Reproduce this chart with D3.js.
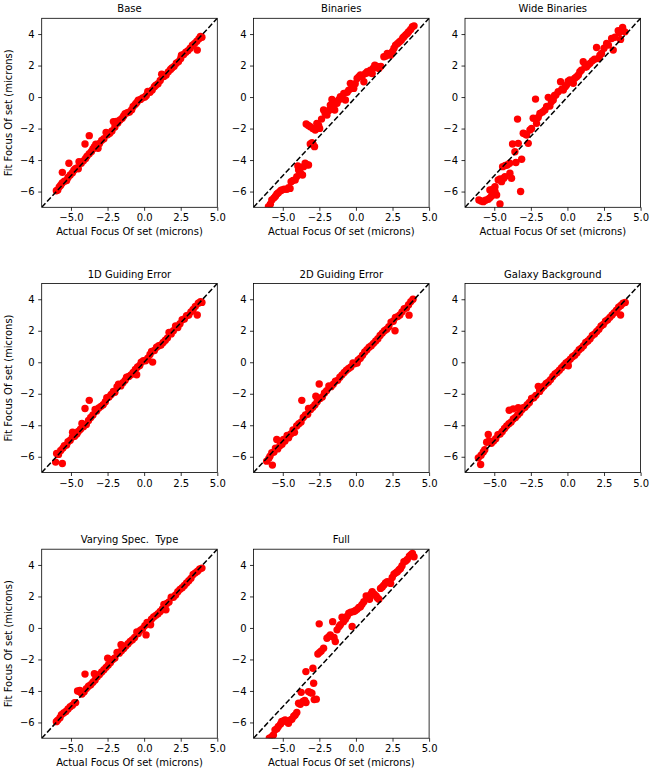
<!DOCTYPE html>
<html>
<head>
<meta charset="utf-8">
<script src="https://d3js.org/d3.v7.min.js"></script>
<style>
  body { margin: 0; background: #fff; }
  text { font-family: "DejaVu Sans", sans-serif; }
</style>
</head>
<body>
<script>
// DATA  ([actual, fit] in microns)

var titles = ["Base", "Binaries", "Wide Binaries", "1D Guiding Error", "2D Guiding Error",
  "Galaxy Background", "Varying Spec.  Type", "Full"];

var base = [[-6.0,-5.95],[-5.9,-5.9],[-5.8,-5.7],[-5.7,-5.6],[-5.6,-5.45],[-5.59,-4.78],[-5.45,-5.35],[-5.3,-5.3],[-5.2,-5.1],[-5.14,-4.2],[-5.05,-4.95],[-4.9,-4.8],[-4.8,-4.65],[-4.7,-4.55],[-4.6,-4.5],[-4.5,-4.55],[-4.45,-4.1],[-4.3,-4.2],[-4.15,-4.05],[-4.04,-2.98],[-4.0,-3.9],[-3.9,-3.75],[-3.75,-2.45],[-3.75,-3.6],[-3.6,-3.45],[-3.5,-3.3],[-3.4,-3.15],[-3.3,-3.0],[-3.15,-3.25],[-3.05,-2.95],[-2.9,-2.75],[-2.75,-2.65],[-2.6,-2.25],[-2.5,-2.4],[-2.35,-2.3],[-2.2,-2.15],[-2.1,-1.56],[-2.0,-1.9],[-1.9,-1.55],[-1.8,-1.65],[-1.65,-1.45],[-1.5,-1.35],[-1.4,-1.2],[-1.3,-1.05],[-1.15,-1.0],[-1.0,-0.95],[-0.85,-0.8],[-0.75,-0.6],[-0.6,-0.45],[-0.5,-0.35],[-0.4,-0.2],[-0.25,-0.15],[-0.1,-0.05],[0.05,0.0],[0.15,0.1],[0.25,0.35],[0.4,0.3],[0.55,0.45],[0.7,0.65],[0.8,0.75],[0.95,0.85],[1.1,1.05],[1.2,1.45],[1.35,1.3],[1.5,1.4],[1.65,1.6],[1.8,1.75],[1.9,1.85],[2.05,1.95],[2.2,2.15],[2.35,2.25],[2.5,2.45],[2.55,2.65],[2.7,2.7],[2.85,2.85],[3.0,2.95],[3.15,3.1],[3.3,3.3],[3.45,3.4],[3.6,3.55],[3.63,2.98],[3.75,3.7],[3.85,3.85],[3.95,3.8]];

var binaries = [[-5.98,-6.96],[-5.85,-6.8],[-5.75,-6.53],[-5.6,-6.4],[-5.5,-6.3],[-5.4,-6.15],[-5.3,-6.07],[-5.15,-5.95],[-5.07,-5.9],[-4.9,-5.85],[-4.72,-5.86],[-4.6,-5.75],[-4.5,-5.8],[-4.43,-5.37],[-4.3,-5.3],[-4.15,-5.26],[-4.04,-5.05],[-3.92,-4.63],[-3.97,-4.38],[-3.8,-4.8],[-3.65,-4.95],[-3.58,-4.42],[-3.47,-4.2],[-3.35,-4.3],[-3.24,-4.31],[-3.12,-2.98],[-3.0,-2.9],[-2.94,-2.98],[-2.83,-3.15],[-3.4,-1.71],[-3.25,-1.8],[-3.12,-1.88],[-2.95,-2.0],[-2.78,-2.09],[-2.67,-1.67],[-2.55,-1.8],[-2.48,-1.99],[-2.35,-1.4],[-2.21,-0.82],[-2.1,-1.05],[-1.98,-1.14],[-1.85,-0.85],[-1.75,-0.51],[-1.64,-0.15],[-1.55,-0.6],[-1.45,-0.82],[-1.35,-0.3],[-1.29,-0.4],[-1.15,-0.15],[-1.06,0.02],[-0.95,-0.1],[-0.83,0.23],[-0.72,-0.19],[-0.6,0.3],[-0.49,0.44],[-0.38,0.87],[-0.28,0.6],[-0.15,0.55],[-0.05,0.85],[0.08,1.18],[0.2,1.3],[0.31,1.4],[0.42,1.3],[0.54,0.97],[0.65,1.5],[0.77,1.61],[0.9,1.55],[0.99,1.71],[1.11,1.5],[1.2,1.85],[1.29,2.03],[1.45,1.95],[1.57,1.82],[1.7,1.95],[1.91,2.56],[2.05,2.6],[2.14,2.77],[2.25,2.75],[2.37,2.66],[2.5,2.9],[2.6,3.1],[2.71,3.3],[2.85,3.4],[2.98,3.51],[3.1,3.6],[3.2,3.75],[3.28,3.83],[3.4,3.95],[3.51,4.04],[3.6,4.15],[3.74,4.29],[3.86,4.46],[3.97,4.52]];

var wideBinaries = [[-6.05,-6.53],[-5.9,-6.6],[-5.75,-6.64],[-5.6,-6.55],[-5.41,-6.49],[-5.3,-6.4],[-5.18,-6.28],[-5.3,-5.9],[-5.1,-5.85],[-4.95,-6.0],[-4.84,-6.22],[-4.61,-6.79],[-4.95,-5.69],[-4.73,-5.26],[-4.6,-5.2],[-4.5,-5.37],[-4.35,-5.15],[-4.27,-5.05],[-3.93,-4.84],[-3.82,-5.16],[-3.2,-6.0],[-4.43,-4.42],[-4.25,-4.35],[-4.11,-4.31],[-3.95,-4.2],[-3.52,-4.16],[-3.13,-3.95],[-3.75,-2.98],[-3.36,-2.94],[-3.59,-3.47],[-3.41,-1.4],[-3.02,-2.3],[-2.9,-2.35],[-2.79,-2.41],[-2.68,-2.94],[-2.56,-2.09],[-2.45,-2.0],[-2.34,-1.35],[-2.18,-0.13],[-2.11,-1.67],[-2.0,-1.3],[-1.88,-1.04],[-1.7,-0.95],[-1.54,-0.82],[-1.42,-0.6],[-1.31,-0.02],[-1.2,-0.57],[-1.1,-0.3],[-0.97,-0.19],[-0.88,0.1],[-0.79,0.13],[-0.63,0.34],[-0.47,0.97],[-0.38,0.5],[-0.28,0.44],[-0.15,0.65],[-0.06,0.76],[0.05,1.0],[0.17,1.08],[0.28,0.95],[0.4,0.87],[0.5,1.2],[0.63,1.29],[0.75,1.4],[0.85,1.61],[0.95,1.7],[1.08,2.24],[1.2,1.9],[1.31,1.92],[1.42,2.05],[1.54,2.14],[1.7,2.3],[1.85,2.4],[1.99,3.15],[2.11,2.45],[2.22,2.65],[2.33,2.77],[2.5,3.1],[2.68,3.4],[2.8,3.3],[3.13,2.98],[3.02,3.72],[3.25,3.8],[3.47,4.21],[3.55,4.1],[3.63,3.66],[3.77,4.42],[3.93,4.14]];

var guiding1D = [[-6.05,-6.34],[-5.59,-6.43],[-5.98,-5.79],[-5.85,-5.85],[-5.7,-5.6],[-5.55,-5.45],[-5.45,-5.3],[-5.3,-5.25],[-5.2,-5.05],[-5.05,-4.95],[-4.9,-4.75],[-4.89,-4.44],[-4.75,-4.7],[-4.6,-4.55],[-4.5,-4.4],[-4.35,-4.25],[-4.25,-3.89],[-4.15,-4.1],[-4.04,-2.94],[-3.95,-3.95],[-3.75,-2.42],[-3.8,-3.7],[-3.65,-3.5],[-3.5,-3.35],[-3.35,-3.0],[-3.25,-3.1],[-3.1,-2.9],[-2.95,-2.8],[-2.8,-2.7],[-2.65,-2.5],[-2.55,-2.25],[-2.4,-2.2],[-2.25,-2.05],[-2.1,-1.85],[-2.0,-1.9],[-1.85,-1.55],[-1.75,-1.4],[-1.6,-1.5],[-1.45,-1.3],[-1.3,-1.15],[-1.2,-0.95],[-1.05,-0.9],[-0.9,-0.8],[-0.75,-0.65],[-0.6,-0.45],[-0.51,-0.79],[-0.45,-0.3],[-0.3,-0.2],[-0.2,0.0],[-0.05,0.1],[0.1,0.1],[0.25,0.25],[0.4,0.5],[0.51,0.69],[0.58,0.01],[0.7,0.75],[0.85,0.95],[1.0,1.05],[1.15,1.1],[1.3,1.25],[1.45,1.4],[1.6,1.55],[1.7,1.9],[1.85,1.8],[2.0,2.0],[2.15,2.3],[2.3,2.2],[2.45,2.45],[2.6,2.7],[2.75,2.75],[2.9,2.95],[3.05,3.0],[3.2,3.2],[3.35,3.35],[3.5,3.55],[3.63,3.0],[3.7,3.75],[3.85,3.85],[3.95,3.8]];

var guiding2D = [[-6.1,-6.28],[-5.95,-6.1],[-5.87,-5.96],[-5.71,-6.53],[-5.75,-5.75],[-5.6,-5.7],[-5.5,-5.45],[-5.41,-4.9],[-5.35,-5.5],[-5.2,-5.3],[-5.05,-5.2],[-4.95,-4.9],[-4.85,-5.0],[-4.7,-4.65],[-4.6,-4.8],[-4.45,-4.55],[-4.3,-4.3],[-4.2,-4.45],[-4.05,-4.05],[-3.9,-3.9],[-3.7,-2.42],[-3.75,-3.8],[-3.6,-3.5],[-3.45,-3.35],[-3.3,-3.3],[-3.24,-2.94],[-3.1,-3.0],[-2.95,-2.85],[-2.8,-2.7],[-2.74,-2.16],[-2.65,-2.5],[-2.51,-1.38],[-2.45,-2.3],[-2.3,-2.2],[-2.15,-1.95],[-2.0,-1.8],[-1.85,-1.5],[-1.7,-1.55],[-1.55,-1.4],[-1.4,-1.2],[-1.25,-1.15],[-1.1,-0.95],[-0.95,-0.8],[-0.8,-0.65],[-0.65,-0.5],[-0.5,-0.4],[-0.35,-0.3],[-0.2,-0.05],[-0.1,-0.1],[0.08,-0.05],[0.15,0.15],[0.3,0.25],[0.45,0.45],[0.6,0.65],[0.75,0.8],[0.9,0.95],[1.05,1.05],[1.2,1.2],[1.35,1.35],[1.5,1.5],[1.65,1.7],[1.8,1.85],[1.95,2.0],[2.1,2.1],[2.25,2.25],[2.4,2.55],[2.55,2.6],[2.67,2.0],[2.7,2.85],[2.85,2.9],[3.0,3.0],[3.15,3.2],[3.3,3.4],[3.45,3.45],[3.63,2.99],[3.6,3.65],[3.75,3.85],[3.9,4.0]];

var galaxy = [[-6.09,-6.07],[-5.93,-6.49],[-5.9,-5.9],[-5.75,-5.7],[-5.65,-5.55],[-5.52,-5.08],[-5.41,-4.59],[-5.35,-5.0],[-5.2,-5.15],[-5.05,-5.0],[-4.9,-4.85],[-4.75,-4.6],[-4.6,-4.55],[-4.45,-4.4],[-4.3,-4.2],[-4.15,-4.05],[-3.98,-3.05],[-4.0,-3.9],[-3.85,-3.8],[-3.7,-2.96],[-3.7,-3.6],[-3.55,-3.5],[-3.36,-2.89],[-3.4,-3.35],[-3.25,-3.2],[-3.02,-2.89],[-3.1,-3.0],[-2.9,-2.85],[-2.75,-2.7],[-2.6,-2.55],[-2.45,-2.3],[-2.3,-2.25],[-2.15,-2.1],[-1.99,-1.53],[-1.88,-1.74],[-1.9,-1.85],[-1.75,-1.65],[-1.6,-1.5],[-1.45,-1.35],[-1.3,-1.25],[-1.15,-1.1],[-1.0,-0.9],[-0.85,-0.75],[-0.7,-0.65],[-0.55,-0.5],[-0.4,-0.35],[-0.25,-0.2],[-0.1,-0.05],[0.06,-0.22],[0.05,0.05],[0.2,0.2],[0.35,0.35],[0.5,0.45],[0.65,0.6],[0.8,0.8],[0.95,0.9],[1.1,1.05],[1.25,1.25],[1.4,1.35],[1.55,1.5],[1.7,1.7],[1.85,1.8],[2.0,1.95],[2.15,2.1],[2.3,2.3],[2.45,2.4],[2.6,2.6],[2.75,2.7],[2.9,2.85],[3.05,3.0],[3.2,3.15],[3.35,3.3],[3.5,3.5],[3.63,3.0],[3.65,3.6],[3.8,3.75],[3.95,3.8]];

var specType = [[-6.0,-5.95],[-5.9,-5.85],[-5.75,-5.7],[-5.65,-5.5],[-5.5,-5.4],[-5.35,-5.3],[-5.2,-5.15],[-5.05,-5.0],[-4.9,-4.9],[-4.75,-4.75],[-4.68,-4.74],[-4.55,-4.0],[-4.4,-4.05],[-4.39,-3.97],[-4.25,-4.2],[-4.1,-4.05],[-4.04,-2.93],[-3.95,-3.85],[-3.8,-3.7],[-3.65,-3.6],[-3.5,-3.45],[-3.4,-2.91],[-3.35,-3.3],[-3.2,-3.1],[-3.05,-2.95],[-2.9,-2.8],[-2.75,-2.65],[-2.6,-2.5],[-2.49,-1.92],[-2.45,-2.35],[-2.3,-2.2],[-2.15,-2.0],[-2.0,-1.9],[-1.85,-1.55],[-1.7,-1.6],[-1.58,-1.07],[-1.55,-1.45],[-1.4,-1.3],[-1.25,-1.15],[-1.1,-1.0],[-0.95,-0.85],[-0.8,-0.75],[-0.65,-0.6],[-0.5,-0.25],[-0.4,-0.35],[-0.25,-0.15],[-0.1,-0.05],[0.05,0.15],[0.13,-0.44],[0.2,0.35],[0.35,0.3],[0.44,0.2],[0.5,0.55],[0.65,0.7],[0.8,0.8],[0.95,0.9],[1.1,1.05],[1.25,1.2],[1.35,1.5],[1.49,1.15],[1.55,1.55],[1.7,1.65],[1.85,1.95],[2.0,1.95],[2.15,2.1],[2.3,2.3],[2.45,2.45],[2.6,2.55],[2.75,2.7],[2.9,2.85],[3.05,3.0],[3.2,3.15],[3.35,3.4],[3.5,3.5],[3.65,3.6],[3.8,3.75],[3.95,3.8]];

var full = [[-5.92,-7.0],[-5.75,-6.9],[-5.64,-6.79],[-5.53,-6.47],[-5.4,-6.4],[-5.3,-6.26],[-5.15,-6.1],[-5.07,-5.94],[-4.95,-5.9],[-4.84,-5.84],[-4.72,-5.95],[-4.61,-6.05],[-4.5,-5.85],[-4.38,-5.79],[-4.25,-5.6],[-4.15,-5.52],[-4.04,-5.37],[-3.92,-4.78],[-3.74,-4.09],[-3.8,-4.85],[-3.62,-4.67],[-3.5,-4.6],[-3.41,-4.74],[-3.24,-4.04],[-3.12,-4.1],[-3.01,-4.14],[-2.89,-3.51],[-2.71,-4.52],[-2.85,-4.55],[-3.42,-2.77],[-2.94,-2.56],[-2.6,-1.65],[-2.48,-1.55],[-2.37,-1.46],[-2.21,-1.29],[-2.51,0.26],[-1.98,-0.65],[-1.85,-0.55],[-1.75,-0.44],[-1.59,0.4],[-1.5,-0.6],[-1.41,-0.86],[-1.29,-0.12],[-1.15,0.1],[-1.06,0.2],[-0.95,0.68],[-0.85,0.4],[-0.72,0.55],[-0.6,0.75],[-0.49,0.93],[-0.35,1.0],[-0.26,0.09],[-0.15,1.04],[-0.05,1.1],[0.08,1.18],[0.2,1.3],[0.31,1.35],[0.42,1.5],[0.54,1.67],[0.7,2.03],[0.8,1.95],[0.93,1.82],[1.02,2.15],[1.11,2.3],[1.25,2.15],[1.38,2.03],[1.47,1.9],[1.57,1.82],[1.68,2.51],[1.8,2.6],[1.91,2.72],[2.02,2.85],[2.14,2.93],[2.25,2.9],[2.37,2.83],[2.48,3.2],[2.6,3.42],[2.72,3.5],[2.83,3.57],[2.95,3.7],[3.05,3.78],[3.15,3.95],[3.28,4.2],[3.4,4.25],[3.51,4.35],[3.65,4.55],[3.76,4.65],[3.86,4.73],[3.97,4.52]];

var panels = [base, binaries, wideBinaries, guiding1D, guiding2D, galaxy, specType, full];

var axisRange = [-7, 5];
var xTicks = [-5, -2.5, 0, 2.5, 5];
var yTicks = [-6, -4, -2, 0, 2, 4];
var xLabel = "Actual Focus Of set (microns)";
var yLabel = "Fit Focus Of set (microns)";

// LAYOUT

var width = 652, height = 776;
var colLeft = [41.7, 253.5, 465];
var rowTop = [18.3, 283.5, 549.2];
var pw = 175.6, ph = 189;

var svg = d3.select("body")
  .append("svg")
  .attr("width", width)
  .attr("height", height);

var x = d3.scaleLinear().domain(axisRange).range([0, pw]);
var y = d3.scaleLinear().domain(axisRange).range([ph, 0]);

svg.append("defs").append("clipPath")
  .attr("id", "plotclip")
  .append("rect")
  .attr("width", pw)
  .attr("height", ph);

panels.forEach(function (pts, i) {
  var col = i % 3, row = Math.floor(i / 3);
  var g = svg.append("g")
    .attr("transform", "translate(" + colLeft[col] + "," + rowTop[row] + ")");

  var plot = g.append("g").attr("clip-path", "url(#plotclip)");

  plot.selectAll("circle")
    .data(pts)
    .enter().append("circle")
    .attr("cx", function (d) { return x(d[0]); })
    .attr("cy", function (d) { return y(d[1]); })
    .attr("r", 3.7)
    .style("fill", "#ff0000");

  // one-to-one line on top of points
  plot.append("line")
    .attr("x1", x(axisRange[0])).attr("y1", y(axisRange[0]))
    .attr("x2", x(axisRange[1])).attr("y2", y(axisRange[1]))
    .style("stroke", "#000")
    .style("stroke-width", 1.5)
    .style("stroke-dasharray", "5.5,2.4");

  var xAxis = g.append("g")
    .attr("transform", "translate(0," + ph + ")")
    .call(d3.axisBottom(x).tickValues(xTicks).tickFormat(d3.format(".1f"))
      .tickSize(3.5).tickPadding(3.5));

  var yAxis = g.append("g")
    .call(d3.axisLeft(y).tickValues(yTicks).tickFormat(d3.format("d"))
      .tickSize(3.5).tickPadding(3.5));

  [xAxis, yAxis].forEach(function (a) {
    a.select(".domain").remove();
    a.selectAll(".tick line").style("stroke", "#000").style("stroke-width", 0.8);
    a.selectAll(".tick text")
      .style("font-size", "10px")
      .style("font-family", "'DejaVu Sans', sans-serif")
      .style("fill", "#000");
  });

  g.append("rect")
    .attr("width", pw)
    .attr("height", ph)
    .style("fill", "none")
    .style("stroke", "#000")
    .style("stroke-width", 0.8);

  g.append("text")
    .attr("x", pw / 2)
    .attr("y", -6)
    .attr("text-anchor", "middle")
    .style("font-size", "10px")
    .style("white-space", "pre")
    .text(titles[i]);

  if (row !== 1) {
    g.append("text")
      .attr("x", pw / 2)
      .attr("y", ph + 28)
      .attr("text-anchor", "middle")
      .style("font-size", "10px")
      .text(xLabel);
  }

  if (col === 0) {
    g.append("text")
      .attr("transform", "translate(" + (-30) + "," + (ph / 2) + ") rotate(-90)")
      .attr("text-anchor", "middle")
      .style("font-size", "10px")
      .text(yLabel);
  }
});
</script>
</body>
</html>
